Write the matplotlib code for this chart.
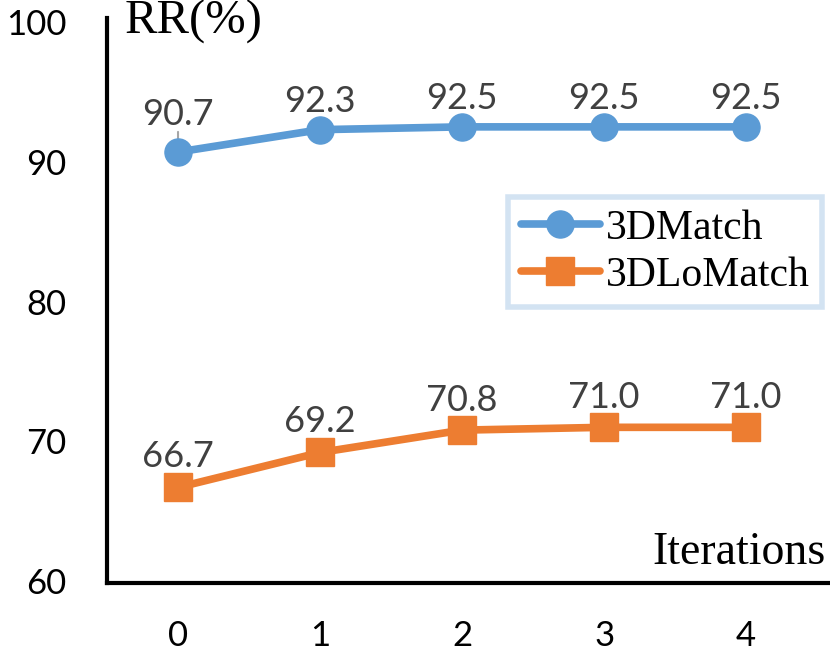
import matplotlib
matplotlib.use("Agg")
import matplotlib.pyplot as plt

iterations = [0, 1, 2, 3, 4]
tick_labels = ["0", "1", "2", "3", "4"]
match_3d = [90.7, 92.3, 92.5, 92.5, 92.5]
lomatch_3d = [66.7, 69.2, 70.8, 71.0, 71.0]
y_ticks = [60, 70, 80, 90, 100]

blue = "#5B9BD5"
orange = "#ED7D31"
label_grey = "#404040"
sans = ["Lato", "DejaVu Sans"]
serif = ["Liberation Serif", "DejaVu Serif"]

fig = plt.figure(figsize=(8.3, 6.6), dpi=100)
ax = fig.add_axes([107 / 830, 1 - 583 / 660, 1 - 107 / 830, (583 - 18) / 660])

ax.plot(iterations, match_3d, color=blue, lw=5.5, marker="o", ms=19.5,
        solid_capstyle="round", label="3DMatch", zorder=3)
ax.plot(iterations, lomatch_3d, color=orange, lw=5.5, marker="s", ms=19.5,
        solid_capstyle="round", label="3DLoMatch", zorder=3)

# baseline offsets of the value labels (points above the marker centre)
blue_off = [19.5, 13, 13, 13, 13]
orange_off = [15, 15, 14, 14, 14]
for x, v, off in zip(iterations, match_3d, blue_off):
    ax.annotate(f"{v:.1f}", (x, v), xytext=(0, off), textcoords="offset points",
                ha="center", va="baseline", fontsize=26, color=label_grey,
                family=sans)
for x, v, off in zip(iterations, lomatch_3d, orange_off):
    ax.annotate(f"{v:.1f}", (x, v), xytext=(0, off), textcoords="offset points",
                ha="center", va="baseline", fontsize=26, color=label_grey,
                family=sans)
# leader line for the first 3DMatch label
ax.annotate("", (iterations[0], match_3d[0]), xytext=(0, 14.5),
            textcoords="offset points",
            arrowprops=dict(arrowstyle="-", color="#A6A6A6", lw=1.5,
                            shrinkA=0, shrinkB=0), zorder=2)

ax.set_xlim(-0.5, 4.59)
ax.set_ylim(59.86, 100.29)
ax.set_xticks(iterations)
ax.set_xticklabels(tick_labels)
ax.set_yticks(y_ticks)
ax.set_yticklabels([str(t) for t in y_ticks])
ax.tick_params(axis="both", length=0, labelsize=25)
ax.tick_params(axis="x", pad=27)
ax.tick_params(axis="y", pad=29)
for lab in ax.get_xticklabels() + ax.get_yticklabels():
    lab.set_family(sans)
    lab.set_color("black")

for s in ["top", "right"]:
    ax.spines[s].set_visible(False)
for s in ["left", "bottom"]:
    ax.spines[s].set_linewidth(3)
    ax.spines[s].set_color("black")

fig.text(125 / 830, 1 - 22 / 660, "RR(%)", family=serif, fontsize=35,
         ha="left", va="center")
fig.text(826 / 830, 1 - 553 / 660, "Iterations", family=serif, fontsize=33,
         ha="right", va="center")

leg = ax.legend(loc="upper left",
                prop={"family": serif, "size": 30}, frameon=True, fancybox=False,
                handlelength=1.9, handletextpad=0.15, borderpad=0.3,
                labelspacing=0.2, borderaxespad=0)
leg.get_frame().set_edgecolor("#C9DCEF")
leg.get_frame().set_linewidth(4)
leg.set_bbox_to_anchor(((508 - 107) / (830 - 107), 1 - (197 - 18) / (583 - 18)),
                       transform=ax.transAxes)

fig.savefig("out.png", dpi=100)
